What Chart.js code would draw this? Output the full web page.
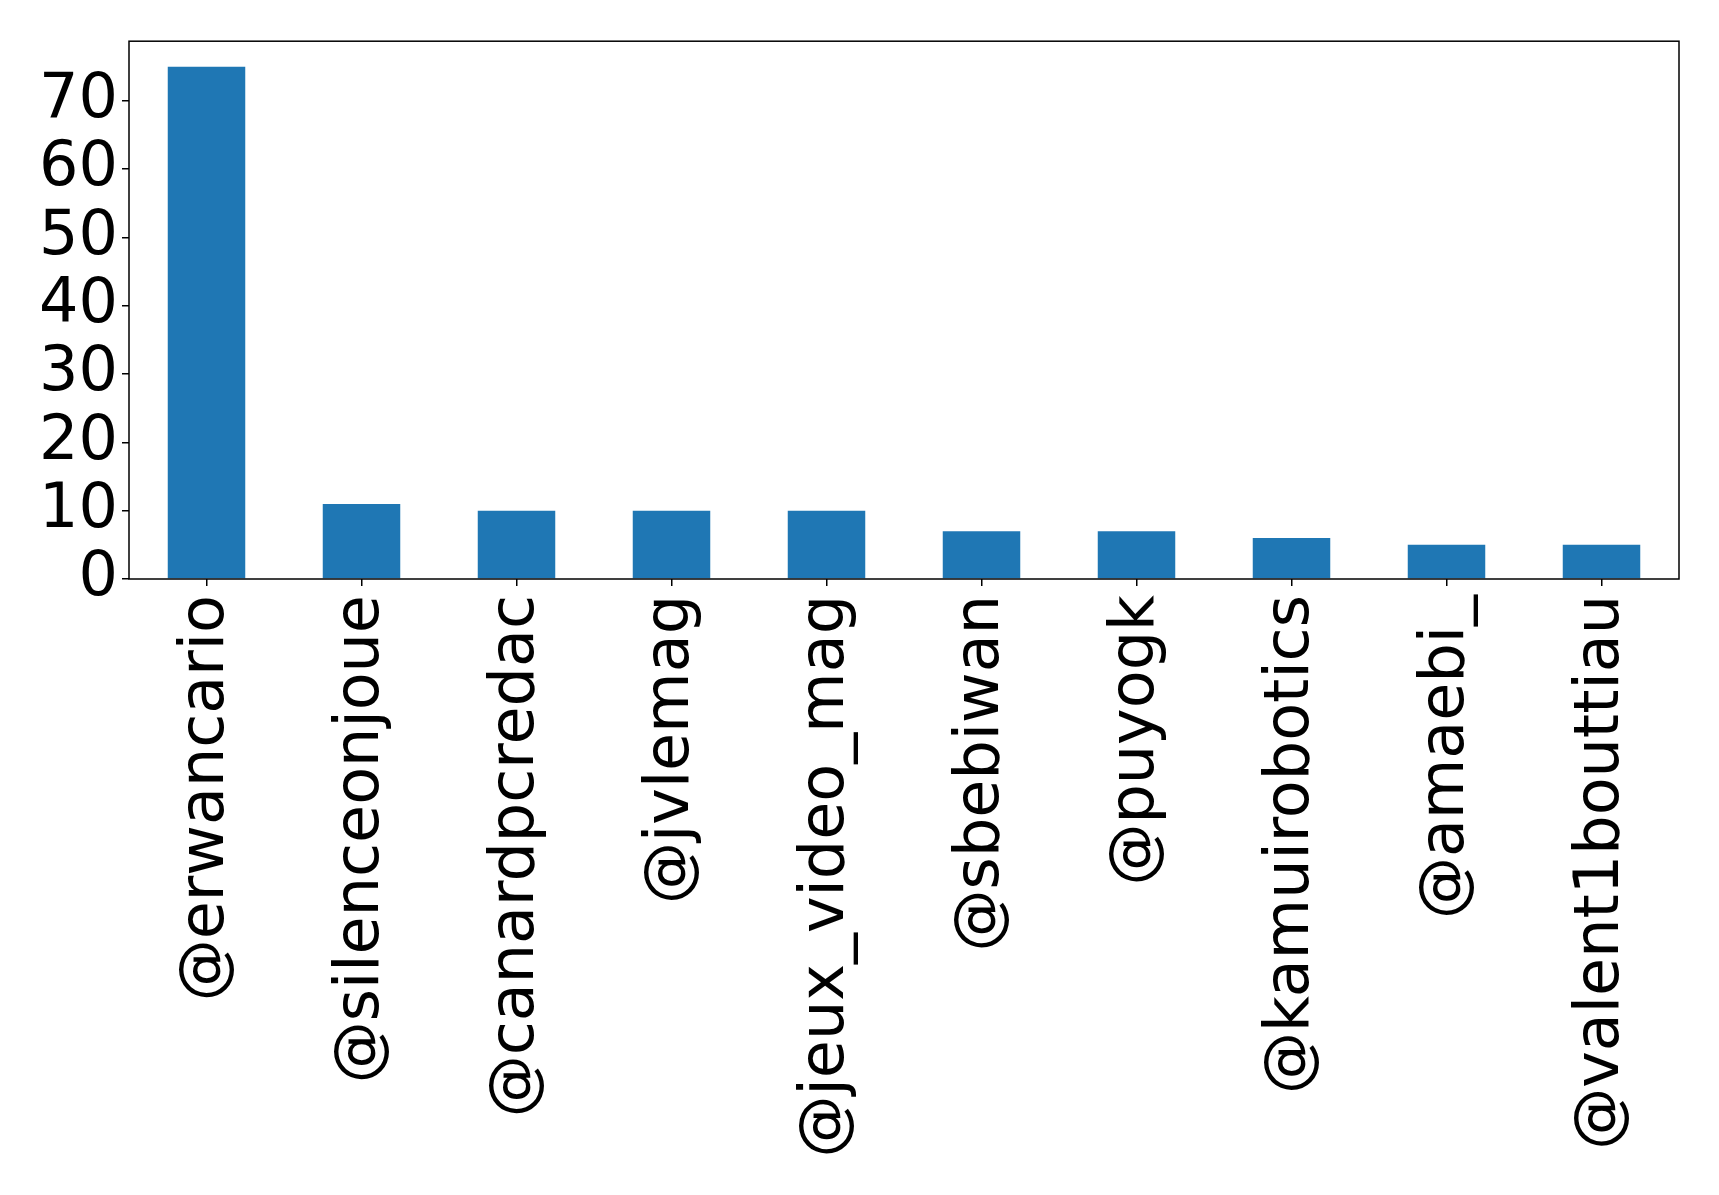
<!DOCTYPE html>
<html>
<head>
<meta charset="utf-8">
<script src="https://cdn.jsdelivr.net/npm/chart.js@4/dist/chart.umd.min.js"></script>
<style>
  body { margin: 0; background: #fff; }
  canvas { display: block; }
</style>
</head>
<body>
<canvas id="grafico" width="1719" height="1195"></canvas>
<script>
// dados
var comptes = ['@erwancario', '@silenceonjoue', '@canardpcredac', '@jvlemag', '@jeux_video_mag',
  '@sbebiwan', '@puyogk', '@kamuirobotics', '@amaebi_', '@valent1bouttiau'];
var mentions = [75, 11, 10, 10, 10, 7, 7, 6, 5, 5];
var yTicks = [0, 10, 20, 30, 40, 50, 60, 70];

// cadre noir autour de la zone du graphique
var cadre = {
  id: 'cadre',
  afterDatasetsDraw: function (chart) {
    var a = chart.chartArea, ctx = chart.ctx;
    ctx.save();
    ctx.strokeStyle = '#000';
    ctx.lineWidth = 1.5;
    ctx.strokeRect(a.left, a.top, a.right - a.left, a.bottom - a.top);
    ctx.restore();
  }
};

var ctx = document.getElementById('grafico').getContext('2d');
var chart = new Chart(ctx, {
  type: 'bar',
  data: {
    labels: comptes,
    datasets: [{
      data: mentions,
      backgroundColor: '#1f77b4',
      borderWidth: 0,
      barPercentage: 0.5,
      categoryPercentage: 1
    }]
  },
  options: {
    responsive: false,
    animation: false,
    devicePixelRatio: 1,
    layout: { padding: { left: 0, top: 41, right: 40, bottom: 0 } },
    plugins: { legend: { display: false }, tooltip: { enabled: false } },
    scales: {
      x: {
        border: { display: false },
        grid: { display: true, offset: false, drawOnChartArea: false, drawTicks: true, tickLength: 7, tickColor: '#000', lineWidth: 1.5 },
        ticks: {
          color: '#000',
          font: { family: 'DejaVu Sans', size: 62 },
          minRotation: 90,
          maxRotation: 90,
          autoSkip: false,
          padding: 9
        },
        afterFit: function (scale) { scale.height = 616; }
      },
      y: {
        min: 0,
        max: 78.75,
        border: { display: false },
        grid: { display: true, drawOnChartArea: false, drawTicks: true, tickLength: 7, tickColor: '#000', lineWidth: 1.5 },
        ticks: {
          color: '#000',
          font: { family: 'DejaVu Sans', size: 62 },
          padding: 4,
          autoSkip: false
        },
        afterBuildTicks: function (scale) {
          scale.ticks = yTicks.map(function (v) { return { value: v }; });
        },
        afterFit: function (scale) { scale.width = 129; }
      }
    }
  },
  plugins: [cadre]
});
</script>
</body>
</html>
